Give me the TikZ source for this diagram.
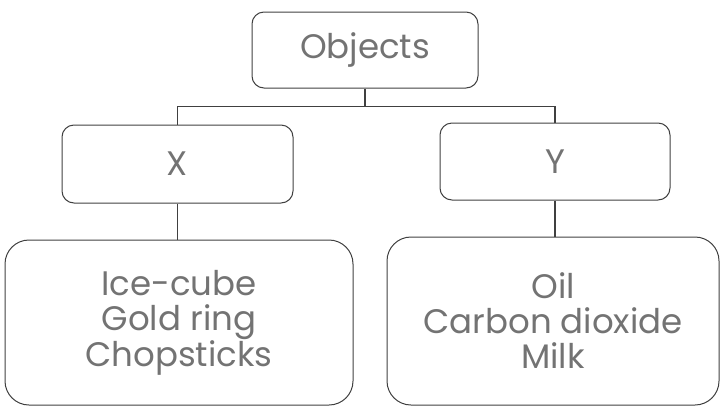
\documentclass[tikz,border=0pt]{standalone}
\usepackage{fontspec}
\setmainfont{Poppins}
\usetikzlibrary{calc}
\begin{document}
\begin{tikzpicture}[x=1pt,y=1pt,
  box/.style={draw=black!75, line width=1pt, rounded corners=12pt, text=black!55, align=center, inner sep=0pt,
    font=\fontsize{34}{35}\selectfont},
  bigbox/.style={box, rounded corners=24pt},
  link/.style={draw=black!75, line width=1.6pt}]
\useasboundingbox (0,0) rectangle (721,-408);
\node[box, minimum width=226pt, minimum height=76pt] (obj) at (365,-50) {Objects};
\node[box, minimum width=231pt, minimum height=78pt] (X) at (177.5,-164) {X};
\node[box, minimum width=230pt, minimum height=77pt] (Y) at (555,-161.5) {Y};
\node[bigbox, minimum width=348pt, minimum height=165pt] (A) at (179,-322.5) {Ice-cube\\Gold ring\\Chopsticks};
\node[bigbox, minimum width=332pt, minimum height=168pt] (B) at (553,-321) {Oil\\Carbon dioxide\\Milk};
\coordinate (j) at ($(obj.south)+(0,-18)$);
\draw[link] (obj.south) -- (j) -| (X.north);
\draw[link] (j) -| (Y.north);
\draw[link] (X.south) -- (X.south |- A.north);
\draw[link] (Y.south) -- (Y.south |- B.north);
\end{tikzpicture}
\end{document}
